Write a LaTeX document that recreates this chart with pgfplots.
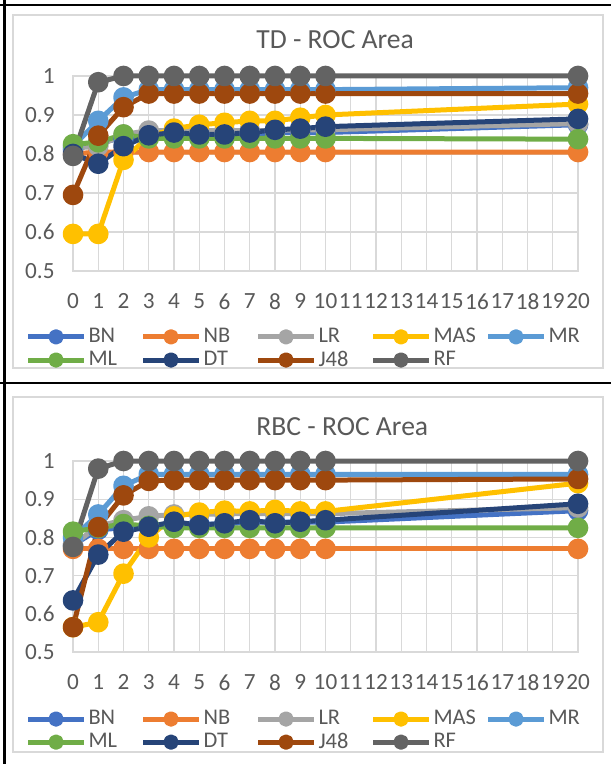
\documentclass[border=0pt]{standalone}
\usepackage{pgfplots}
\pgfplotsset{compat=1.18}
\usepackage{pgfplotstable}
\usepackage{fontspec}
\setmainfont{Carlito}
\definecolor{cBN}{HTML}{4472C4}
\definecolor{cNB}{HTML}{ED7D31}
\definecolor{cLR}{HTML}{A5A5A5}
\definecolor{cMAS}{HTML}{FFC000}
\definecolor{cMR}{HTML}{5B9BD5}
\definecolor{cML}{HTML}{70AD47}
\definecolor{cDT}{HTML}{264478}
\definecolor{cJ}{HTML}{9E480E}
\definecolor{cRF}{HTML}{636363}
\definecolor{gridc}{HTML}{D9D9D9}
\definecolor{tickc}{HTML}{595959}

\pgfplotstableread{
x BN NB LR MAS MR ML DT J48 RF
0 0.810 0.800 0.815 0.595 0.820 0.825 0.800 0.695 0.795
1 0.830 0.805 0.820 0.595 0.885 0.830 0.775 0.847 0.984
2 0.840 0.805 0.850 0.785 0.945 0.850 0.820 0.920 1.000
3 0.845 0.805 0.860 0.845 0.965 0.840 0.848 0.955 1.000
4 0.850 0.805 0.860 0.865 0.965 0.840 0.855 0.955 1.000
5 0.850 0.805 0.860 0.875 0.965 0.840 0.850 0.955 1.000
6 0.850 0.805 0.860 0.880 0.965 0.840 0.850 0.955 1.000
7 0.850 0.805 0.860 0.885 0.965 0.840 0.855 0.955 1.000
8 0.855 0.805 0.860 0.885 0.965 0.840 0.862 0.955 1.000
9 0.855 0.805 0.862 0.893 0.965 0.840 0.865 0.955 1.000
10 0.855 0.805 0.862 0.900 0.965 0.840 0.870 0.955 1.000
20 0.875 0.805 0.878 0.928 0.970 0.838 0.890 0.955 1.000
}\td

\pgfplotstableread{
x BN NB LR MAS MR ML DT J48 RF
0 0.780 0.770 0.780 0.565 0.800 0.815 0.635 0.565 0.775
1 0.820 0.770 0.830 0.578 0.860 0.825 0.755 0.827 0.980
2 0.825 0.770 0.845 0.705 0.935 0.835 0.815 0.910 1.000
3 0.830 0.770 0.855 0.800 0.965 0.830 0.828 0.948 1.000
4 0.830 0.770 0.860 0.855 0.965 0.825 0.841 0.950 1.000
5 0.835 0.770 0.860 0.865 0.965 0.825 0.832 0.950 1.000
6 0.835 0.770 0.862 0.870 0.965 0.825 0.837 0.950 1.000
7 0.840 0.770 0.862 0.868 0.965 0.825 0.845 0.950 1.000
8 0.840 0.770 0.862 0.872 0.965 0.825 0.837 0.950 1.000
9 0.840 0.770 0.862 0.868 0.965 0.825 0.841 0.950 1.000
10 0.840 0.770 0.862 0.868 0.965 0.825 0.845 0.950 1.000
20 0.870 0.770 0.878 0.942 0.965 0.825 0.888 0.953 1.000
}\rbc

\newcommand{\ticksize}{\fontsize{11.6}{13}\selectfont}
\newcommand{\legsize}{\fontsize{11.2}{13}\selectfont}
\newcommand{\titlesize}{\fontsize{13.8}{16}\selectfont}

\pgfplotsset{
  myax/.style={
    scale only axis, width=252.5pt,
    xmin=0, xmax=20, ymin=0.5, ymax=1,
    clip=false,
    xtick={0,...,20}, ytick={0.5,0.6,0.7,0.8,0.9,1},
    grid=major, major grid style={draw=gridc, line width=0.6pt},
    axis line style={draw=gridc, line width=0.6pt},
    major tick length=0pt, tick style={draw=none},
    tick label style={font=\ticksize, text=tickc, inner sep=0pt},
    yticklabel style={anchor=east, xshift=-9pt},
    xticklabel style={anchor=north, yshift=-11pt},
    /pgf/number format/assume math mode=true,
    legend columns=5,
    legend cell align=left,
    legend style={draw=none, fill=none, inner sep=0pt, outer sep=0pt,
      font=\legsize, text=tickc,
      row sep=2.6pt,
      nodes={inner sep=0pt, text width=26pt, align=left},
      /tikz/every odd column/.append style={column sep=1pt},
      /tikz/every even column/.append style={column sep=0pt}},
    legend image code/.code={
      \draw[#1, mark=none, line width=2.5pt] (0pt,0pt) -- (28pt,0pt);
      \draw[#1, mark size=2.6pt] plot coordinates {(14pt,0pt)};
    },
    every axis plot/.append style={line width=2.5pt, line join=round, mark=*, mark size=3.9pt, mark options={solid}},
  }
}

\newcommand{\allplots}[1]{%
  \addplot[color=cBN] table[x=x,y=BN]{#1}; \addlegendentry{BN}
  \addplot[color=cNB] table[x=x,y=NB]{#1}; \addlegendentry{NB}
  \addplot[color=cLR] table[x=x,y=LR]{#1}; \addlegendentry{LR}
  \addplot[color=cMAS] table[x=x,y=MAS]{#1}; \addlegendentry{MAS}
  \addplot[color=cMR] table[x=x,y=MR]{#1}; \addlegendentry{MR}
  \addplot[color=cML] table[x=x,y=ML]{#1}; \addlegendentry{ML}
  \addplot[color=cDT] table[x=x,y=DT]{#1}; \addlegendentry{DT}
  \addplot[color=cJ] table[x=x,y=J48]{#1}; \addlegendentry{J48}
  \addplot[color=cRF] table[x=x,y=RF]{#1}; \addlegendentry{RF}
}

\begin{document}
\begin{tikzpicture}
\useasboundingbox (0,0) rectangle (305.5pt,382pt);
\draw[gridc, line width=0.6pt] (6.5pt,198pt) rectangle (301.5pt,374.5pt);
\draw[gridc, line width=0.6pt] (6.5pt,6pt) rectangle (301.5pt,183.5pt);
\draw[black, line width=1.3pt] (2.3pt,0pt) -- (2.3pt,382pt);
\draw[black, line width=1.3pt] (0pt,379.5pt) -- (305.5pt,379.5pt);
\draw[black, line width=1.3pt] (0pt,190.5pt) -- (305.5pt,190.5pt);

\node[anchor=base west, font=\titlesize, text=tickc, inner sep=0pt] at (128pt,357.5pt) {TD - ROC Area};
\node[anchor=base west, font=\titlesize, text=tickc, inner sep=0pt] at (128pt,164pt) {RBC - ROC Area};

\begin{axis}[myax, at={(36.5pt,246.5pt)}, anchor=south west, height=97.5pt,
  legend style={at={(axis description cs:-0.094,-0.293)}, anchor=north west}]
\allplots{\td}
\end{axis}

\begin{axis}[myax, at={(36.5pt,56pt)}, anchor=south west, height=95.5pt,
  legend style={at={(axis description cs:-0.094,-0.305)}, anchor=north west}]
\allplots{\rbc}
\end{axis}
\end{tikzpicture}
\end{document}
